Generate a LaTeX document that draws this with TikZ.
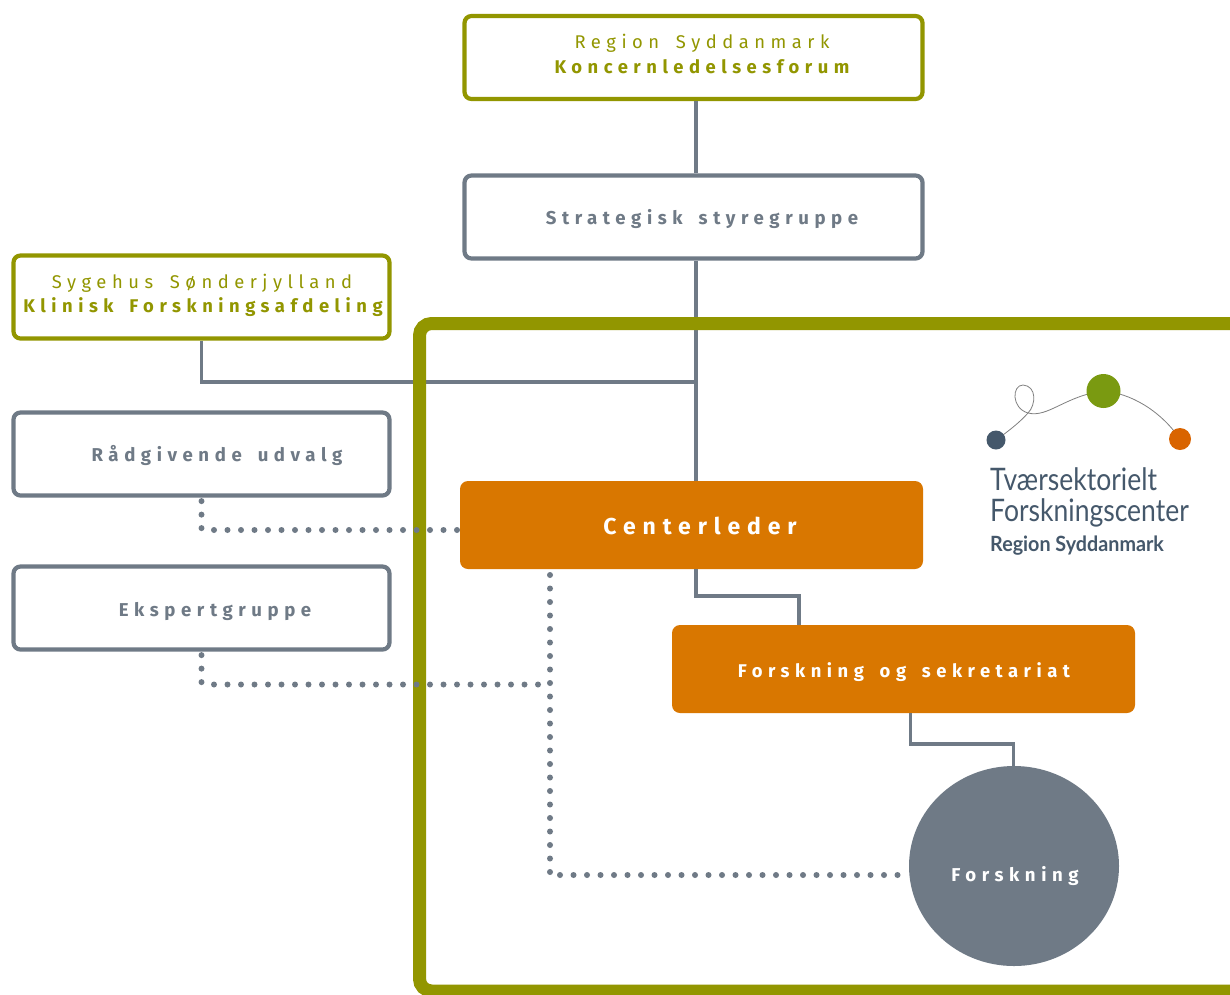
\documentclass[tikz,border=0pt]{standalone}
\usepackage{fontspec}
\usetikzlibrary{calc,shapes.geometric}
\setmainfont{Fira Sans}
\newfontfamily\logofont[FakeStretch=0.855]{Lato}
\newfontfamily\logofontb[FakeStretch=0.94]{Lato}
\newfontfamily\lsA[LetterSpace=30,WordSpace=1.6]{Fira Sans}
\definecolor{olive}{HTML}{929600}
\definecolor{slate}{HTML}{6F7A86}
\definecolor{amber}{HTML}{D97700}
\definecolor{logoblue}{HTML}{45586B}
\definecolor{logogreen}{HTML}{7A9A11}
\definecolor{logoorange}{HTML}{D96400}
\tikzset{
 olivebox/.style={draw=olive,line width=4.2pt,rounded corners=7pt,fill=white,minimum width=458pt,minimum height=83pt,inner sep=0pt},
 slatebox/.style={draw=slate,line width=4.2pt,rounded corners=7pt,fill=white,minimum width=458pt,minimum height=83pt,inner sep=0pt},
 ambox/.style={fill=amber,rounded corners=8pt,inner sep=0pt,minimum width=463pt,minimum height=88pt},
 solidline/.style={draw=slate,line width=3.8pt},
 dotline/.style={draw=slate,line width=6pt,line cap=round,dash pattern=on 0pt off 13.5pt},
 lblreg/.style={anchor=base,inner sep=0pt,font=\lsA\fontsize{18.4}{24}\selectfont},
 lblbold/.style={anchor=base,inner sep=0pt,font=\lsA\bfseries\fontsize{18.4}{24}\selectfont},
 lblsl/.style={anchor=base,inner sep=0pt,text=slate,font=\lsA\bfseries\fontsize{18.6}{24}\selectfont},
 logotxt/.style={anchor=base west,inner sep=0pt,text=logoblue,font=\logofont\fontsize{31}{31}\selectfont}
}
\begin{document}
\begin{tikzpicture}[x=1pt,y=-1pt]
\useasboundingbox (0,0) rectangle (1230,994);
\fill[white] (0,0) rectangle (1230,994);
% nodes
\node[olivebox,minimum width=376pt] (sj) at (201.5,297) {};
\node[slatebox,minimum width=376pt] (raad) at (201.5,454) {};
\node[slatebox,minimum width=376pt] (eksp) at (201.5,608) {};
\node[olivebox] (kl) at (693.5,57.5) {};
\node[slatebox] (strat) at (693.5,217) {};
\coordinate (cln) at (691.5,481);
\coordinate (spine) at ($(strat.south)+(2.5,0)$);
\coordinate (cltop) at (spine |- cln);
\coordinate (cjoin) at (spine |- 0,382);
% connectors under the frame
\draw[solidline] (sj.south) |- (cjoin);
\draw[solidline] ($(kl.south)+(2.5,0)$) -- ($(strat.north)+(2.5,0)$);
\draw[solidline] (spine) -- (cltop);
% frame
\draw[olive,line width=13pt,rounded corners=12pt] (1260,323.5) -- (419.5,323.5) -- (419.5,991) -- (1260,991);
\node[ellipse,fill=slate,minimum width=210pt,minimum height=200pt,inner sep=0pt] (fk) at (1014,866) {};
\node[ambox] (cl) at (691.5,525) {};
\node[ambox] (fs) at (903.5,669) {};
% connectors over the frame
\coordinate (c1) at ($(cl.south)+(4.5,0)$);
\coordinate (c2) at ($(fs.north)+(-104.5,0)$);
\coordinate (c3) at ($(fs.south)+(7,0)$);
\coordinate (c4) at ($(fk.north)+(-0.5,4)$);
\draw[solidline] (c1) -- (c1 |- 0,596) -- (c2 |- 0,596) -- (c2);
\draw[solidline] (c3) -- (c3 |- 0,744) -- (c4 |- 0,744) -- (c4);
\coordinate (d1) at (201.5,530);
\coordinate (d2) at (201.5,685);
\coordinate (d3) at (550,873);
\coordinate (d4) at (550,684.5);
\coordinate (d5) at (cl.west |- 0,530);
\coordinate (d6) at (899,875);
\draw[dotline] ($(raad.south)+(0,3.5)$) -- (d1);
\draw[dotline] (214,530) -- (d5);
\draw[dotline] ($(eksp.south)+(0,3.5)$) -- (d2);
\draw[dotline] (214,684.5) -- (d4);
\draw[dotline] (550,575) -- (d3);
\draw[dotline] (560,875) -- (d6);
% labels
\node[lblreg,text=olive] (t1) at (702,48) {Region Syddanmark};
\node[lblbold,text=olive] (t2) at (702,73) {Koncernledelsesforum};
\node[lblsl] (t3) at (702,224) {Strategisk styregruppe};
\node[lblreg,text=olive] (t4) at (202,288) {Sygehus Sønderjylland};
\node[lblbold,text=olive] (t5) at (203,312) {Klinisk Forskningsafdeling};
\node[lblsl] (t6) at (217,461) {Rådgivende udvalg};
\node[lblsl] (t7) at (215,616) {Ekspertgruppe};
\node[anchor=base,inner sep=0pt,text=white,font=\lsA\bfseries\fontsize{23}{24}\selectfont] (t8) at (700,534) {Centerleder};
\node[lblbold,text=white] (t9) at (904,677) {Forskning og sekretariat};
\node[lblsl,text=white] (t10) at (1015,881) {Forskning};
% logo
\draw[draw=gray,line width=0.8pt] (996,440) .. controls (1010,430) and (1020,422) .. (1028,413) .. controls (1036,405) and (1037,386) .. (1023,385) .. controls (1012,385) and (1011,408) .. (1028,413) .. controls (1048,418) and (1065,396) .. (1103,391) .. controls (1130,393) and (1160,410) .. (1180,439);
\fill[logoblue] (996,440) circle (9.5pt);
\fill[logogreen] (1103.5,391) circle (17pt);
\fill[logoorange] (1180,439) circle (11pt);
\node[logotxt] (l1) at (990,490) {Tværsektorielt};
\node[logotxt] (l2) at (990,521.5) {Forskningscenter};
\node[logotxt,font=\logofontb\bfseries\fontsize{21}{21}\selectfont] (l3) at (990,551) {Region Syddanmark};
\end{tikzpicture}
\end{document}
